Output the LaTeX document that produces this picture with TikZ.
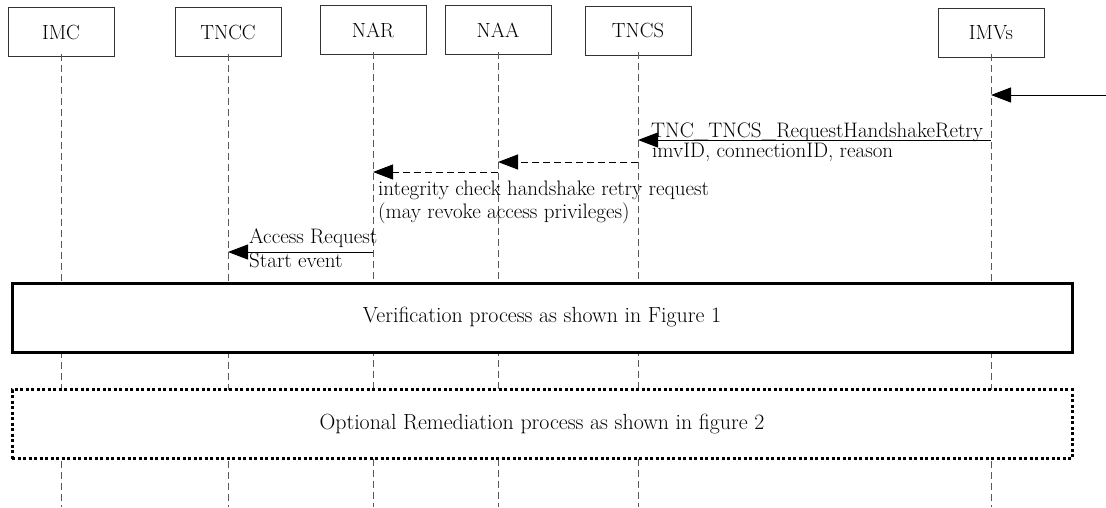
\documentclass[tikz,border=0pt]{standalone}
\usepackage{fontspec}
\setmainfont{Latin Modern Roman}
\usetikzlibrary{arrows.meta}
\begin{document}
\begin{tikzpicture}[x=1pt,y=-1pt,
  actor/.style={draw=black!80,line width=0.8pt,minimum width=106pt,minimum height=49pt,inner sep=0pt,font=\fontsize{20.5}{24}\selectfont,fill=white},
  life/.style={draw=black!65,line width=0.8pt,dash pattern=on 7pt off 4pt},
  msg/.style={draw=black,line width=1pt,-{Triangle[length=20pt,width=15pt]}},
  dmsg/.style={msg,dash pattern=on 7pt off 4pt},
  lbl/.style={anchor=base west,inner sep=0pt,font=\fontsize{21}{24}\selectfont},
  procbox/.style={fill=white,minimum width=1060pt,minimum height=69pt,inner sep=0pt,font=\fontsize{21.9}{25}\selectfont}
]
\useasboundingbox (0,0) rectangle (1106,507);
% actors
\node[actor] (imc)  at (61,32)   {IMC};
\node[actor] (tncc) at (228,32)  {TNCC};
\node[actor] (nar)  at (373,30)  {NAR};
\node[actor] (naa)  at (498,30)  {NAA};
\node[actor] (tncs) at (638,30.5){TNCS};
\node[actor] (imvs) at (991,32.5){IMVs};
% lifeline ends
\foreach \n in {imc,tncc,nar,naa,tncs,imvs}{
  \coordinate (\n-end) at (\n.south |- 0,507);
  \draw[life] ([yshift=3pt]\n.south) -- (\n-end);
}
% levels
\coordinate (y95) at (0,95);
\coordinate (y140) at (0,140);
\coordinate (y162) at (0,162);
\coordinate (y172) at (0,172);
\coordinate (y252) at (0,252);
\coordinate (ext) at (1106,95);
% messages
\draw[msg] (ext) -- (imvs.south |- y95);
\draw[msg] (imvs.south |- y140) -- (tncs.south |- y140);
\node[lbl] (l1) at (651,137) {TNC\_TNCS\_RequestHandshakeRetry};
\node[lbl] (l2) at (652,157) {imvID, connectionID, reason};
\draw[dmsg] (tncs.south |- y162) -- (naa.south |- y162);
\draw[dmsg] (naa.south |- y172) -- (nar.south |- y172);
\node[lbl] (l3) at (378,195) {integrity check handshake retry request};
\node[lbl] (l4) at (378,218) {(may revoke access privileges)};
\draw[msg] (nar.south |- y252) -- (tncc.south |- y252);
\node[lbl] (l5) at (249,243) {Access Request};
\node[lbl] (l6) at (249,267) {Start event};
% process boxes
\node[procbox,draw=black,line width=3pt] (verif) at (542,317.5) {Verification process as shown in Figure 1};
\node[procbox,draw=black,line width=3pt,dash pattern=on 3pt off 2.5pt] (remed) at (542,424) {Optional Remediation process as shown in figure 2};
\end{tikzpicture}
\end{document}
